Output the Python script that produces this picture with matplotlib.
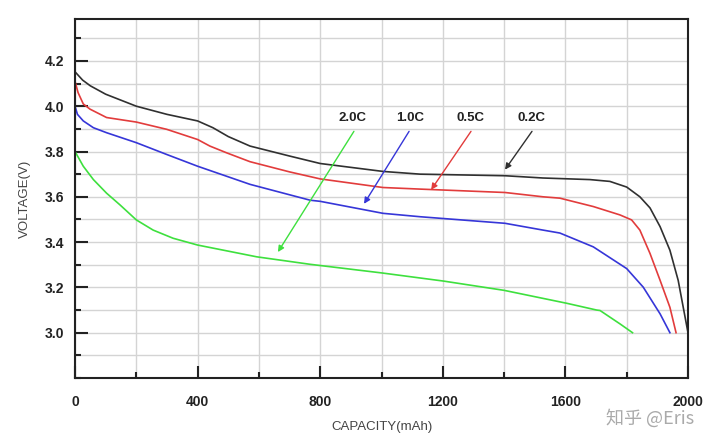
import matplotlib
matplotlib.use('Agg')
import matplotlib.pyplot as plt
from matplotlib.ticker import MultipleLocator

plt.rcParams['font.family'] = ['Liberation Sans', 'DejaVu Sans']

# 0.2C (black)
cap_02 = [0, 25, 50, 100, 200, 300, 400, 450, 500, 571, 700, 800, 1005, 1126, 1403,
          1527, 1680, 1745, 1800, 1843, 1876, 1909, 1941, 1968, 2000]
volt_02 = [4.152, 4.115, 4.09, 4.053, 4.0, 3.964, 3.935, 3.905, 3.866, 3.824, 3.78,
           3.747, 3.712, 3.70, 3.693, 3.683, 3.676, 3.668, 3.643, 3.60, 3.551, 3.468,
           3.364, 3.231, 3.0]

# 0.5C (red)
cap_05 = [0, 10, 27, 49, 103, 200, 299, 400, 440, 495, 571, 700, 800, 1005, 1126,
          1403, 1527, 1582, 1691, 1778, 1816, 1843, 1876, 1909, 1941, 1961]
volt_05 = [4.11, 4.06, 4.01, 3.987, 3.95, 3.93, 3.898, 3.853, 3.824, 3.794, 3.755,
           3.71, 3.679, 3.641, 3.634, 3.619, 3.60, 3.594, 3.557, 3.52, 3.498, 3.453,
           3.35, 3.231, 3.112, 3.0]

# 1.0C (blue)
cap_10 = [0, 8, 27, 60, 103, 200, 299, 400, 571, 767, 800, 1005, 1126, 1403, 1527,
          1582, 1691, 1800, 1854, 1909, 1941]
volt_10 = [4.0, 3.964, 3.935, 3.905, 3.883, 3.839, 3.787, 3.735, 3.655, 3.585, 3.58,
           3.527, 3.512, 3.483, 3.453, 3.44, 3.379, 3.283, 3.201, 3.083, 3.0]

# 2.0C (green)
cap_20 = [0, 27, 60, 103, 147, 200, 255, 320, 400, 593, 767, 1000, 1202, 1400, 1604,
          1702, 1713, 1778, 1819]
volt_20 = [3.80, 3.735, 3.676, 3.616, 3.564, 3.498, 3.453, 3.417, 3.387, 3.335,
           3.302, 3.264, 3.228, 3.187, 3.13, 3.10, 3.098, 3.039, 3.0]

labels = ['2.0C', '1.0C', '0.5C', '0.2C']
label_x = [904, 1093, 1289, 1491]
label_y = 3.947
arrow_tail = [(910, 3.889), (1090, 3.889), (1292, 3.889), (1491, 3.889)]
arrow_head = [(662, 3.356), (943, 3.569), (1162, 3.631), (1403, 3.72)]
colors = ['#3ee03e', '#3636d8', '#e23c3c', '#303030']

fig = plt.figure(figsize=(7.2, 4.48), dpi=100)
ax = fig.add_axes([75 / 720, 1 - 378 / 448, 613 / 720, 359 / 448])

ax.plot(cap_02, volt_02, color=colors[3], lw=1.2)
ax.plot(cap_05, volt_05, color=colors[2], lw=1.2)
ax.plot(cap_10, volt_10, color=colors[1], lw=1.2)
ax.plot(cap_20, volt_20, color=colors[0], lw=1.2)

for lab, lx, tail, head, c in zip(labels, label_x, arrow_tail, arrow_head, colors):
    ax.text(lx, label_y, lab, ha='center', va='center', fontsize=9.5,
            fontweight='bold', color='#222222')
    ax.annotate('', xy=head, xytext=tail,
                arrowprops=dict(arrowstyle='-|>', color=c, lw=1.0,
                                mutation_scale=9, shrinkA=0, shrinkB=0))

ax.set_xlim(0, 2000)
ax.set_ylim(2.8, 4.385)
ax.xaxis.set_major_locator(MultipleLocator(400))
ax.xaxis.set_minor_locator(MultipleLocator(200))
ax.yaxis.set_minor_locator(MultipleLocator(0.1))
ax.set_yticks([3.0, 3.2, 3.4, 3.6, 3.8, 4.0, 4.2])
ax.yaxis.set_major_formatter(plt.FormatStrFormatter('%.1f'))

ax.grid(True, which='both', color='#d4d4d4', lw=1.0)
ax.set_axisbelow(True)
ax.tick_params(which='major', direction='in', length=9, width=1.5, color='#222222',
               top=False, right=False, labelsize=10, labelcolor='#222222')
ax.tick_params(which='minor', direction='in', length=4.5, width=1.5, color='#222222',
               top=False, right=False)
ax.tick_params(axis='x', which='major', pad=12)
ax.tick_params(axis='y', which='major', pad=8)
for t in ax.get_xticklabels() + ax.get_yticklabels():
    t.set_fontweight('bold')
for s in ax.spines.values():
    s.set_linewidth(1.5)
    s.set_color('#222222')

ax.set_xlabel('CAPACITY(mAh)', fontsize=9.5, color='#444444', labelpad=9)
ax.set_ylabel('VOLTAGE(V)', fontsize=9.5, color='#444444', labelpad=10)

fig.text(650 / 720, 1 - 418 / 448, '知乎 @Eris', ha='center', va='center',
         fontsize=13, color='#aaaaaa', family=['Noto Sans CJK SC', 'DejaVu Sans'])

fig.savefig('out.png', dpi=100)
